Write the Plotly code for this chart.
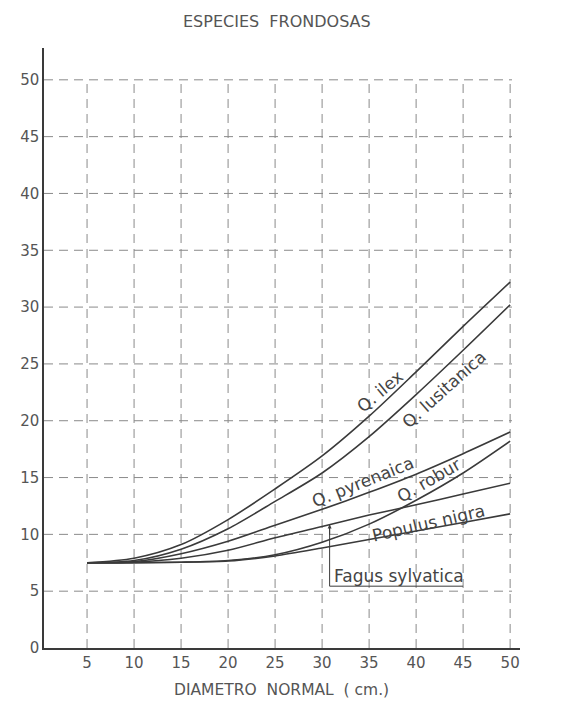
import numpy as np
import plotly.graph_objects as go

# ---- data ----
diametro = [5, 10, 15, 20, 25, 30, 35, 40, 45, 50]
q_ilex = [7.5, 7.9, 9.1, 11.3, 14.0, 16.9, 20.4, 24.3, 28.3, 32.2]
q_lusitanica = [7.5, 7.7, 8.7, 10.5, 12.9, 15.4, 18.6, 22.3, 26.2, 30.2]
q_pyrenaica = [7.5, 7.6, 8.3, 9.4, 10.8, 12.2, 13.7, 15.3, 17.1, 19.0]
q_robur = [7.5, 7.5, 7.55, 7.7, 8.2, 9.3, 10.9, 13.0, 15.4, 18.2]
populus_nigra = [7.5, 7.5, 7.55, 7.65, 8.1, 8.8, 9.55, 10.3, 11.05, 11.8]
fagus_sylvatica = [7.5, 7.55, 7.9, 8.6, 9.7, 10.7, 11.7, 12.6, 13.55, 14.5]

x_ticks = [5, 10, 15, 20, 25, 30, 35, 40, 45, 50]
y_ticks = [0, 5, 10, 15, 20, 25, 30, 35, 40, 45, 50]

series = [
    ("Q. ilex", q_ilex),
    ("Q. lusitanica", q_lusitanica),
    ("Q. pyrenaica", q_pyrenaica),
    ("Q. robur", q_robur),
    ("Populus nigra", populus_nigra),
    ("Fagus sylvatica", fagus_sylvatica),
]

FONT = "DejaVu Sans"
INK = "#3a3a3a"
GRID = "#8a8a8a"
TXT = "#555555"

fig = go.Figure()
for name, vals in series:
    fig.add_trace(go.Scatter(
        x=diametro, y=vals, mode="lines", name=name,
        line=dict(color=INK, width=1.6, shape="spline", smoothing=0.8),
        showlegend=False, hoverinfo="skip"))

X0, X1 = 0.42, 51.05
Y0, Y1 = 0, 52.8

shapes = []
for xt in x_ticks:
    shapes.append(dict(type="line", xref="x", yref="y", x0=xt, x1=xt, y0=0, y1=50,
                       line=dict(color=GRID, width=1, dash="9px,6px"), layer="below"))
for yt in y_ticks[1:]:
    shapes.append(dict(type="line", xref="x", yref="y", x0=X0, x1=50.2, y0=yt, y1=yt,
                       line=dict(color=GRID, width=1, dash="9px,6px"), layer="below"))

# leader for Fagus sylvatica label
lead_x = 30.8
lead_top = float(np.interp(lead_x, diametro, fagus_sylvatica))
shapes.append(dict(type="path", xref="x", yref="y",
                   path=f"M {lead_x},{lead_top} L {lead_x},5.44 L 45.0,5.44",
                   line=dict(color=INK, width=1)))

annotations = [
    dict(text="Q. ilex", x=36.2, y=22.6, textangle=-40),
    dict(text="Q. lusitanica", x=43.0, y=22.8, textangle=-42),
    dict(text="Q. pyrenaica", x=34.3, y=14.6, textangle=-22),
    dict(text="Q. robur", x=41.4, y=14.75, textangle=-30),
    dict(text="Populus nigra", x=41.3, y=11.0, textangle=-13),
    dict(text="Fagus sylvatica", x=38.2, y=6.3, textangle=0),
]
for a in annotations:
    a.update(xref="x", yref="y", showarrow=False,
             font=dict(family=FONT, size=17, color="#444444"))

annotations.append(dict(x=lead_x, y=lead_top, ax=lead_x, ay=lead_top - 1.0,
                        xref="x", yref="y", axref="x", ayref="y", text="",
                        showarrow=True, arrowhead=2, arrowsize=0.8, arrowwidth=1,
                        arrowcolor=INK))

# the page body adds an 8 px offset; the layout below compensates for it
T = 40
annotations.append(dict(text="ESPECIES\u00a0 FRONDOSAS", xref="paper", yref="paper",
                        x=0.49, y=1 + (T - 14) / 600, xanchor="center", yanchor="middle",
                        showarrow=False, font=dict(family=FONT, size=16, color=TXT)))
annotations.append(dict(text="DIAMETRO\u00a0 NORMAL\u00a0 ( cm.)", xref="paper", yref="paper",
                        x=0.498, y=-(682 - (T + 600)) / 600, xanchor="center", yanchor="middle",
                        showarrow=False, font=dict(family=FONT, size=15.5, color=TXT)))

fig.update_layout(
    width=562, height=715,
    margin=dict(l=32, r=50, t=T, b=75),
    paper_bgcolor="white", plot_bgcolor="white",
    shapes=shapes, annotations=annotations,
    xaxis=dict(range=[X0, X1], tickvals=x_ticks, showgrid=False, zeroline=False,
               showline=True, linecolor=INK, linewidth=1.5, ticks="",
               tickfont=dict(family=FONT, size=15, color=TXT)),
    yaxis=dict(range=[Y0, Y1], tickvals=y_ticks, showgrid=False, zeroline=False,
               showline=True, linecolor=INK, linewidth=1.5, ticks="",
               tickfont=dict(family=FONT, size=15, color=TXT)),
)

fig.write_html("out.html")
